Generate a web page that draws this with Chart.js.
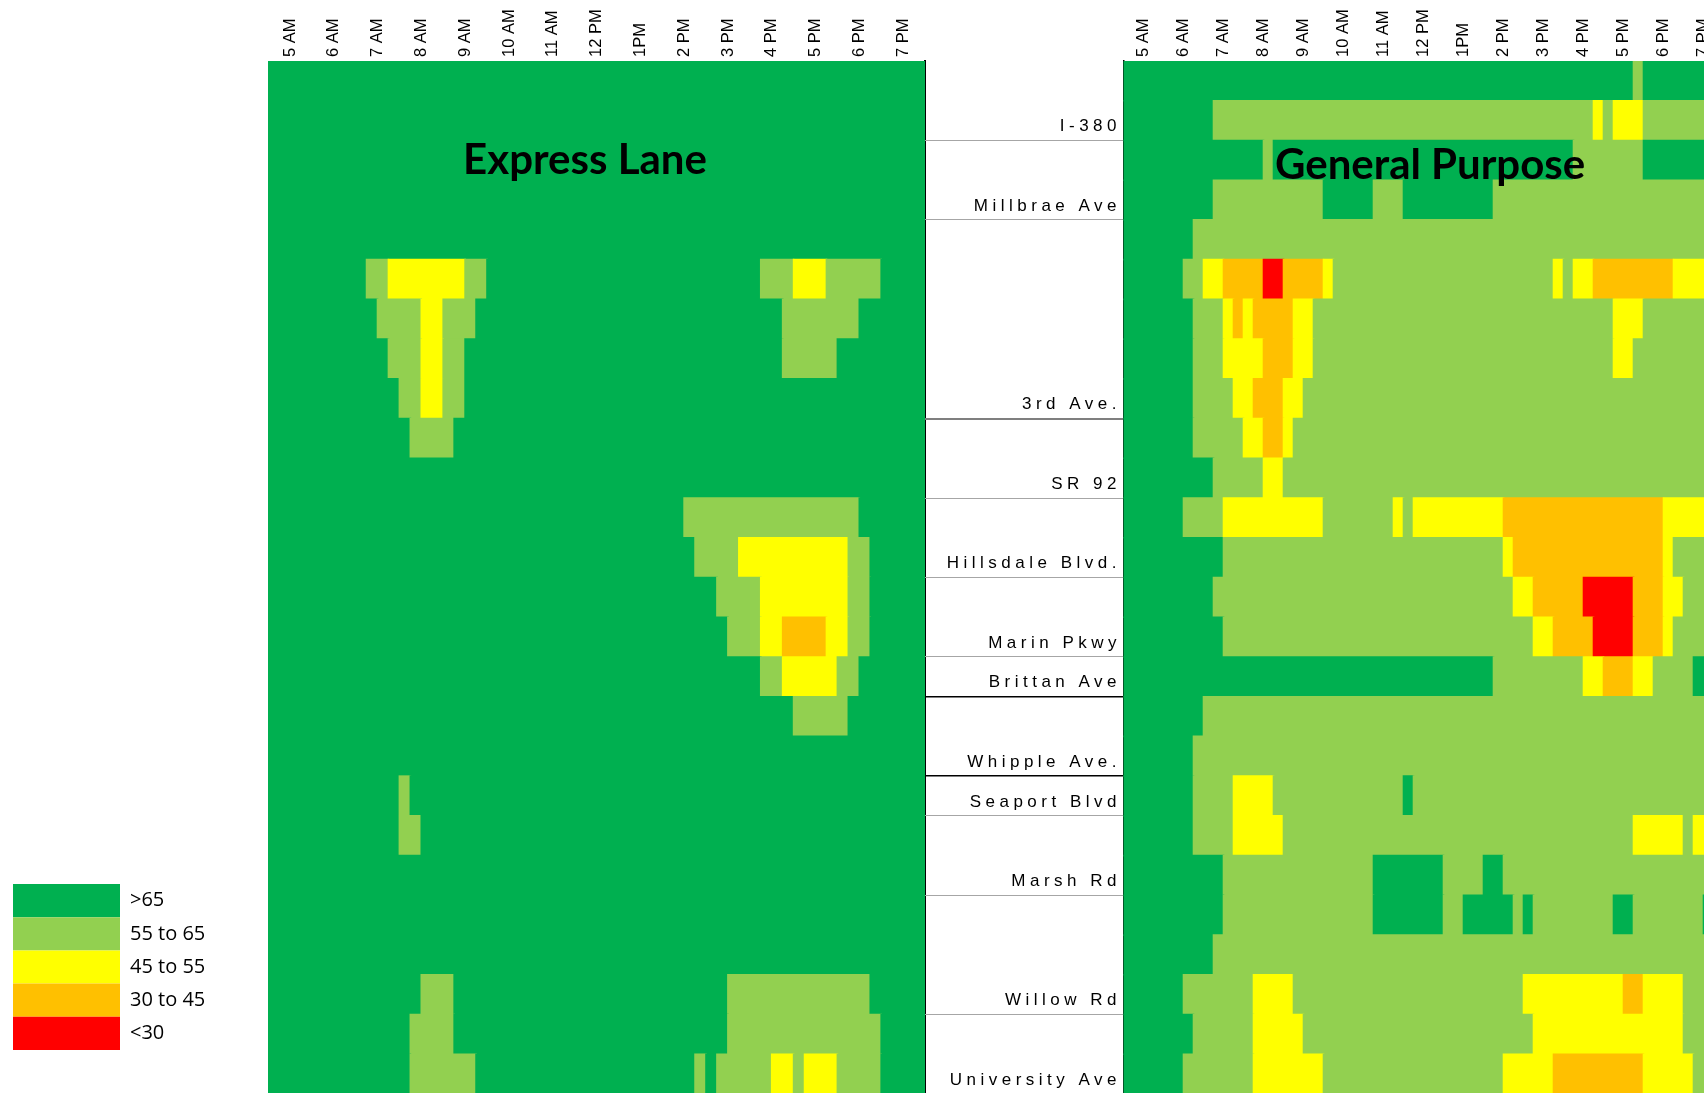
<!DOCTYPE html>
<html>
<head>
<meta charset="utf-8">
<title>Express Lane vs General Purpose speeds</title>
<script src="https://cdn.jsdelivr.net/npm/chart.js"></script>
<style>
  html, body { margin: 0; padding: 0; background: #fff; overflow: hidden; width: 1704px; height: 1093px; }
  canvas { position: absolute; top: 0; }
  #expressChart { left: 0; }
  #generalChart { left: 925px; }
</style>
</head>
<body>
<canvas id="expressChart" width="930" height="1094"></canvas>
<canvas id="generalChart" width="800" height="1094"></canvas>
<script>
// speed bands, top to bottom as in the legend
const bandCodes  = ['G', 'g', 'Y', 'O', 'R'];
const bandLabels = ['>65', '55 to 65', '45 to 55', '30 to 45', '<30'];
const bandColors = ['#00B050', '#92D050', '#FFFF00', '#FFC000', '#FF0000'];

// 15 minute bins from 4:30 AM, one char per bin, grouped by hour
const binStart = 4.5;
const binHours = 0.25;
const hourTicks  = [5, 6, 7, 8, 9, 10, 11, 12, 13, 14, 15, 16, 17, 18, 19];
const hourLabels = ['5 AM', '6 AM', '7 AM', '8 AM', '9 AM', '10 AM', '11 AM', '12 PM',
                    '1PM', '2 PM', '3 PM', '4 PM', '5 PM', '6 PM', '7 PM'];

// segment boundaries (row index below the label) and their names
const roadRows  = [2, 4, 9, 11, 13, 15, 16, 18, 19, 21, 24, 26];
const roadNames = ['I-380', 'Millbrae Ave', '3rd Ave.', 'SR 92', 'Hillsdale Blvd.', 'Marin Pkwy',
                   'Brittan Ave', 'Whipple Ave.', 'Seaport Blvd', 'Marsh Rd', 'Willow Rd', 'University Ave'];

const expressRows = [
  'GGGG GGGG GGGG GGGG GGGG GGGG GGGG GGGG GGGG GGGG GGGG GGGG GGGG GGGG GGGG',
  'GGGG GGGG GGGG GGGG GGGG GGGG GGGG GGGG GGGG GGGG GGGG GGGG GGGG GGGG GGGG',
  'GGGG GGGG GGGG GGGG GGGG GGGG GGGG GGGG GGGG GGGG GGGG GGGG GGGG GGGG GGGG',
  'GGGG GGGG GGGG GGGG GGGG GGGG GGGG GGGG GGGG GGGG GGGG GGGG GGGG GGGG GGGG',
  'GGGG GGGG GGGG GGGG GGGG GGGG GGGG GGGG GGGG GGGG GGGG GGGG GGGG GGGG GGGG',
  'GGGG GGGG GggY YYYY YYgg GGGG GGGG GGGG GGGG GGGG GGGG Gggg YYYg gggg GGGG',
  'GGGG GGGG GGgg ggYY gggG GGGG GGGG GGGG GGGG GGGG GGGG GGGg gggg ggGG GGGG',
  'GGGG GGGG GGGg ggYY ggGG GGGG GGGG GGGG GGGG GGGG GGGG GGGg gggg GGGG GGGG',
  'GGGG GGGG GGGG ggYY ggGG GGGG GGGG GGGG GGGG GGGG GGGG GGGG GGGG GGGG GGGG',
  'GGGG GGGG GGGG Gggg gGGG GGGG GGGG GGGG GGGG GGGG GGGG GGGG GGGG GGGG GGGG',
  'GGGG GGGG GGGG GGGG GGGG GGGG GGGG GGGG GGGG GGGG GGGG GGGG GGGG GGGG GGGG',
  'GGGG GGGG GGGG GGGG GGGG GGGG GGGG GGGG GGGG GGgg gggg gggg gggg ggGG GGGG',
  'GGGG GGGG GGGG GGGG GGGG GGGG GGGG GGGG GGGG GGGg gggY YYYY YYYY YggG GGGG',
  'GGGG GGGG GGGG GGGG GGGG GGGG GGGG GGGG GGGG GGGG Gggg gYYY YYYY YggG GGGG',
  'GGGG GGGG GGGG GGGG GGGG GGGG GGGG GGGG GGGG GGGG GGgg gYYO OOOY YggG GGGG',
  'GGGG GGGG GGGG GGGG GGGG GGGG GGGG GGGG GGGG GGGG GGGG GggY YYYY ggGG GGGG',
  'GGGG GGGG GGGG GGGG GGGG GGGG GGGG GGGG GGGG GGGG GGGG GGGG gggg gGGG GGGG',
  'GGGG GGGG GGGG GGGG GGGG GGGG GGGG GGGG GGGG GGGG GGGG GGGG GGGG GGGG GGGG',
  'GGGG GGGG GGGG gGGG GGGG GGGG GGGG GGGG GGGG GGGG GGGG GGGG GGGG GGGG GGGG',
  'GGGG GGGG GGGG ggGG GGGG GGGG GGGG GGGG GGGG GGGG GGGG GGGG GGGG GGGG GGGG',
  'GGGG GGGG GGGG GGGG GGGG GGGG GGGG GGGG GGGG GGGG GGGG GGGG GGGG GGGG GGGG',
  'GGGG GGGG GGGG GGGG GGGG GGGG GGGG GGGG GGGG GGGG GGGG GGGG GGGG GGGG GGGG',
  'GGGG GGGG GGGG GGGG GGGG GGGG GGGG GGGG GGGG GGGG GGGG GGGG GGGG GGGG GGGG',
  'GGGG GGGG GGGG GGgg gGGG GGGG GGGG GGGG GGGG GGGG GGgg gggg gggg gggG GGGG',
  'GGGG GGGG GGGG Gggg gGGG GGGG GGGG GGGG GGGG GGGG GGgg gggg gggg gggg GGGG',
  'GGGG GGGG GGGG Gggg gggG GGGG GGGG GGGG GGGG GGGg Gggg ggYY gYYY gggg GGGG'
];

const generalRows = [
  'GGGG GGGG GGGG GGGG GGGG GGGG GGGG GGGG GGGG GGGG GGGG GGGG GGGg GGGG GGGG',
  'GGGG GGGG Gggg gggg gggg gggg gggg gggg gggg gggg gggg gggY gYYY gggg gggg',
  'GGGG GGGG GGGG GGgG GGGG GGGG GGGG GGGG GGGG GGGG GGGG Gggg gggg GGGG GGGG',
  'GGGG GGGG Gggg gggg gggg GGGG Gggg GGGG GGGG Gggg gggg gggg gggg gggg gggg',
  'GGGG GGGg gggg gggg gggg gggg gggg gggg gggg gggg gggg gggg gggg gggg gggg',
  'GGGG GGgg YYOO OORR OOOO Yggg gggg gggg gggg gggg gggY gYYO OOOO OOOY YYYY',
  'GGGG GGGg ggYO YOOO OYYg gggg gggg gggg gggg gggg gggg gggg gYYY gggg gggg',
  'GGGG GGGg ggYY YYOO OYYg gggg gggg gggg gggg gggg gggg gggg gYYg gggg gggg',
  'GGGG GGGg gggY YOOO YYgg gggg gggg gggg gggg gggg gggg gggg gggg gggg gggg',
  'GGGG GGGg gggg YYOO Yggg gggg gggg gggg gggg gggg gggg gggg gggg gggg gggg',
  'GGGG GGGG Gggg ggYY gggg gggg gggg gggg gggg gggg gggg gggg gggg gggg gggg',
  'GGGG GGgg ggYY YYYY YYYY gggg gggY gYYY YYYY YYOO OOOO OOOO OOOO OOYY YYYY',
  'GGGG GGGG GGgg gggg gggg gggg gggg gggg gggg ggYO OOOO OOOO OOOO OOYg gggg',
  'GGGG GGGG Gggg gggg gggg gggg gggg gggg gggg gggY YOOO OORR RRRO OOYY gggg',
  'GGGG GGGG GGgg gggg gggg gggg gggg gggg gggg gggg gYYO OOOR RRRO OOYg gggg',
  'GGGG GGGG GGGG GGGG GGGG GGGG GGGG GGGG GGGG Gggg gggg ggYY OOOY Yggg gGGG',
  'GGGG GGGG gggg gggg gggg gggg gggg gggg gggg gggg gggg gggg gggg gggg gggg',
  'GGGG GGGg gggg gggg gggg gggg gggg gggg gggg gggg gggg gggg gggg gggg gggg',
  'GGGG GGGg gggY YYYg gggg gggg gggg Gggg gggg gggg gggg gggg gggg gggg gggg',
  'GGGG GGGg gggY YYYY gggg gggg gggg gggg gggg gggg gggg gggg gggY YYYY gYYg',
  'GGGG GGGG GGgg gggg gggg gggg gGGG GGGG gggg GGgg gggg gggg gggg gggg gggg',
  'GGGG GGGG GGgg gggg gggg gggg gGGG GGGG ggGG GGGg Gggg gggg gGGg gggg ggGg',
  'GGGG GGGG Gggg gggg gggg gggg gggg gggg gggg gggg gggg gggg gggg gggg gggg',
  'GGGG GGgg gggg gYYY Yggg gggg gggg gggg gggg gggg YYYY YYYY YYOO YYYY gggg',
  'GGGG GGGg gggg gYYY YYgg gggg gggg gggg gggg gggg gYYY YYYY YYYY YYYY gggg',
  'GGGG GGgg gggg gYYY YYYY gggg gggg gggg gggg ggYY YYYO OOOO OOOO YYYY Yggg'
];

const timeFont = { family: "'Liberation Sans', Arial", size: 16.5 };

// turn each row of bins into floating horizontal bars, one per run of equal band
function segments(rows) {
  const segs = [];
  rows.forEach((row, r) => {
    const cells = row.replace(/ /g, '');
    let start = 0;
    for (let c = 1; c <= cells.length; c++) {
      if (c === cells.length || cells[c] !== cells[start]) {
        segs.push({ x: [binStart + start * binHours, binStart + c * binHours], y: r + 0.5, band: cells[start] });
        start = c;
      }
    }
  });
  return segs;
}

function heatDataset(rows) {
  const segs = segments(rows);
  return {
    data: segs,
    backgroundColor: segs.map(s => bandColors[bandCodes.indexOf(s.band)]),
    borderWidth: 0,
    inflateAmount: 0.8,
    barPercentage: 1,
    categoryPercentage: 1,
    xAxisID: 'x',
    yAxisID: 'y'
  };
}

function timeAxis() {
  return {
    type: 'linear',
    position: 'top',
    min: binStart,
    max: binStart + 60 * binHours,
    afterBuildTicks: s => { s.ticks = hourTicks.map(v => ({ value: v })); },
    afterFit: s => { s.height = 61; },
    grid: { drawOnChartArea: false, drawTicks: false },
    border: { color: '#bfbfbf', width: 1 },
    ticks: {
      autoSkip: false, minRotation: 90, maxRotation: 90, padding: 4, labelOffset: 20,
      color: '#000', font: timeFont,
      callback: (v, i) => hourLabels[i]
    }
  };
}

function rowAxis(position, extra) {
  return Object.assign({
    type: 'linear', position, min: 0, max: 26, reverse: true, offset: false,
    grid: { display: false, offset: false },
    ticks: { display: false, stepSize: 1 }
  }, extra);
}

// panel name written inside the plot, plus the wide spacing of the road labels
const panelTitle = {
  id: 'panelTitle',
  afterDatasetsDraw(chart, args, opts) {
    const { ctx, chartArea } = chart;
    ctx.save();
    ctx.font = 'bold 42px Lato';
    ctx.fillStyle = '#000';
    ctx.textAlign = 'center';
    ctx.textBaseline = 'alphabetic';
    ctx.fillText(opts.text, chartArea.left + chartArea.width * opts.xFrac, chartArea.top + opts.baseline);
    ctx.restore();
    if (opts.labelSpacing) ctx.letterSpacing = opts.labelSpacing;
  },
  afterDraw(chart) {
    chart.ctx.letterSpacing = '0px';
  }
};

new Chart(document.getElementById('expressChart'), {
  type: 'bar',
  data: { datasets: [heatDataset(expressRows)] },
  plugins: [panelTitle],
  options: {
    responsive: false,
    animation: false,
    events: [],
    indexAxis: 'y',
    layout: { padding: { left: 13, right: 0, top: 0, bottom: 0 } },
    scales: {
      x: timeAxis(),
      y: rowAxis('left', {
        afterFit: s => { s.width = 268 - 13 - s.chart.legend.width; },
        border: { color: '#000', width: 1 }
      }),
      yr: rowAxis('right', {
        afterFit: s => { s.width = 5; },
        border: { color: '#000', width: 2 }
      })
    },
    plugins: {
      tooltip: { enabled: false },
      panelTitle: { text: 'Express Lane', xFrac: 0.4825, baseline: 113 },
      legend: {
        position: 'left',
        align: 'start',
        maxWidth: 240,
        title: { display: true, text: ' ', padding: { top: 872, bottom: 0 }, font: { size: 10 } },
        labels: {
          boxWidth: 107,
          boxHeight: 33.2,
          padding: 0,
          color: '#000',
          font: { family: "'Open Sans'", size: 20 },
          generateLabels: () => bandLabels.map((t, i) => ({
            text: t, fillStyle: bandColors[i], strokeStyle: bandColors[i],
            fontColor: '#000', lineWidth: 0, hidden: false
          }))
        }
      }
    }
  }
});

const heavyRoads = ['Brittan Ave', 'Whipple Ave.'];

new Chart(document.getElementById('generalChart'), {
  type: 'bar',
  data: { datasets: [heatDataset(generalRows)] },
  plugins: [panelTitle],
  options: {
    responsive: false,
    animation: false,
    events: [],
    indexAxis: 'y',
    layout: { padding: { left: 0, right: 1.5, top: 0, bottom: 0 } },
    scales: {
      x: timeAxis(),
      y: rowAxis('left', {
        afterBuildTicks: s => { s.ticks = roadRows.map(v => ({ value: v })); },
        afterFit: s => { s.width = 198.5; },
        grid: {
          offset: false,
          drawOnChartArea: false,
          drawTicks: true,
          tickLength: 198.5,
          color: c => {
            const name = roadNames[c.index];
            if (name === '3rd Ave.') return '#7f7f7f';
            return heavyRoads.includes(name) ? '#000' : '#a6a6a6';
          },
          lineWidth: c => (roadNames[c.index] === '3rd Ave.' ? 2 : heavyRoads.includes(roadNames[c.index]) ? 1.6 : 1)
        },
        border: { color: '#000', width: 1.5 },
        ticks: {
          autoSkip: false, padding: -196, labelOffset: -14, z: 1,
          color: '#000', font: { family: "'Liberation Sans', Arial", size: 17 },
          callback: (v, i) => roadNames[i]
        }
      })
    },
    plugins: {
      tooltip: { enabled: false },
      legend: { display: false },
      panelTitle: { text: 'General Purpose', xFrac: 0.511, baseline: 118, labelSpacing: '4.5px' }
    }
  }
});
</script>
</body>
</html>
